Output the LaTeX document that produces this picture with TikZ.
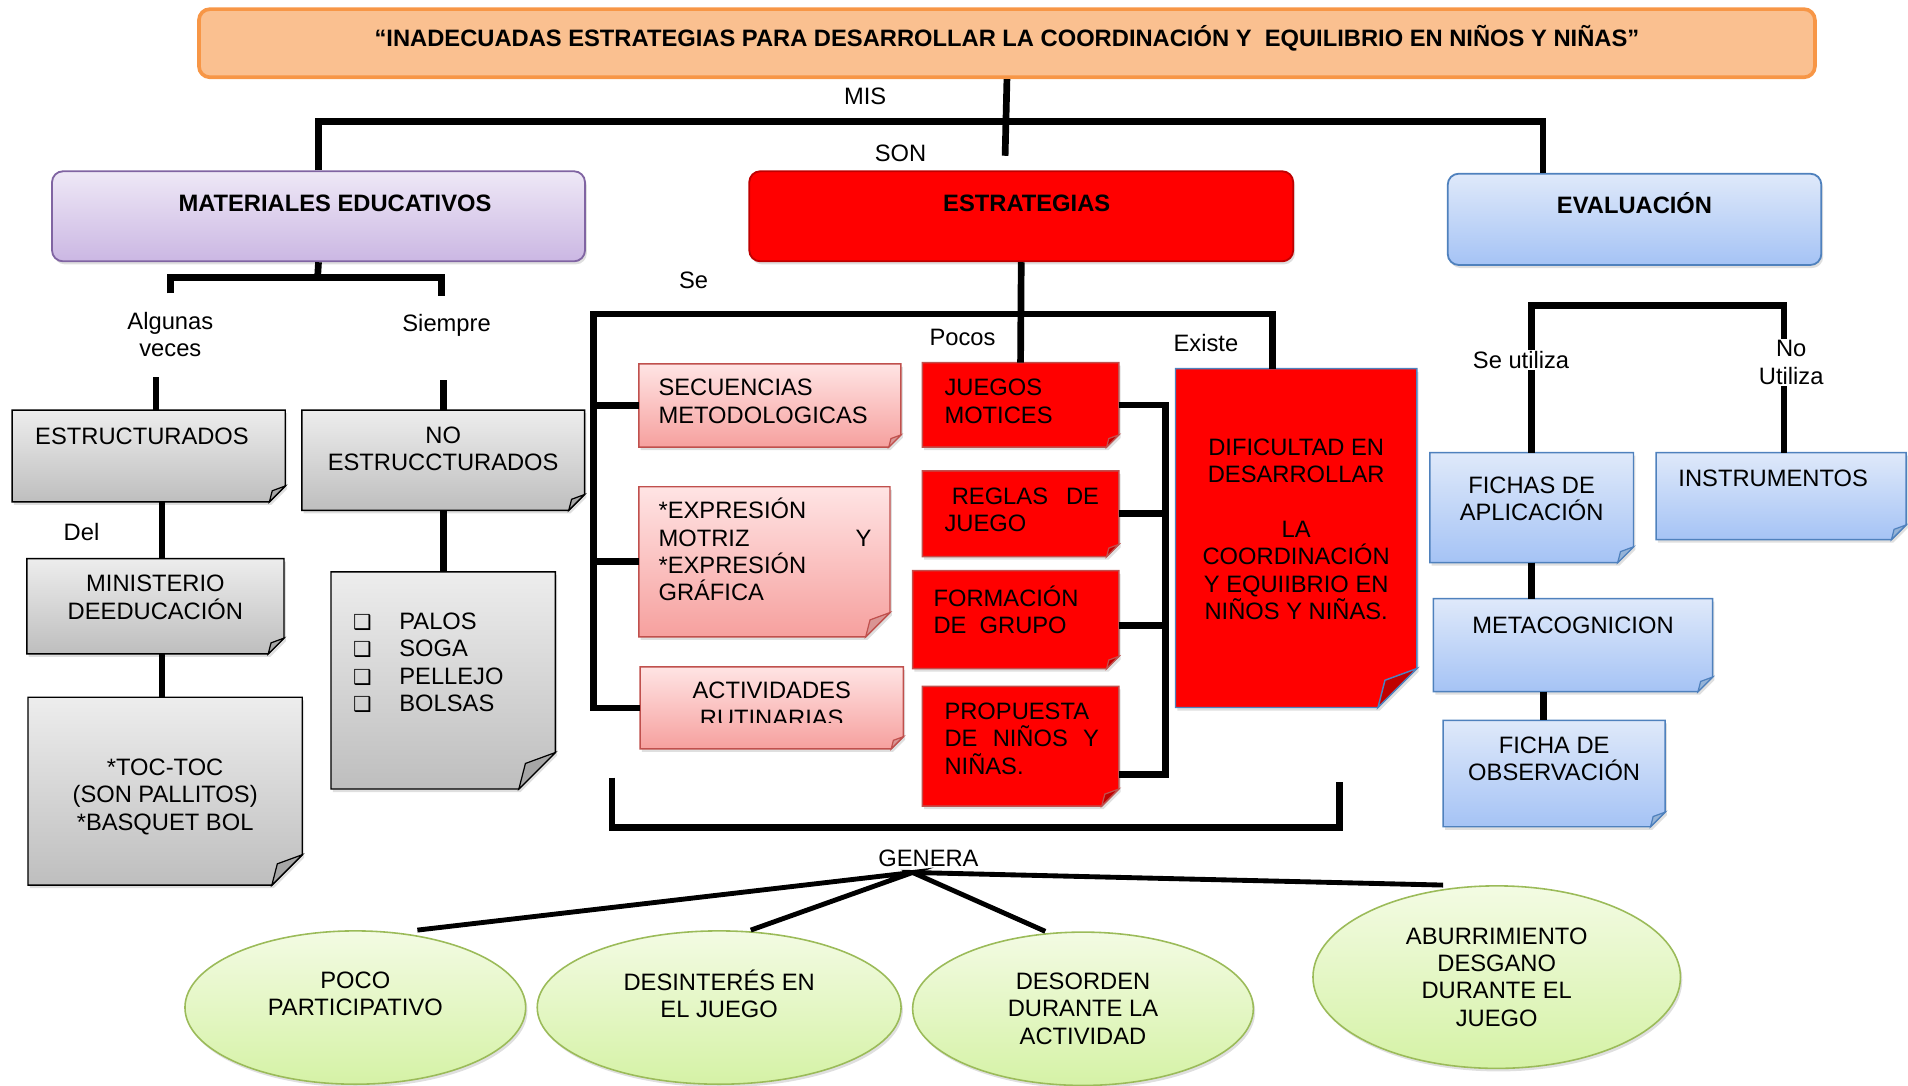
\documentclass[tikz,border=0pt]{standalone}
\usepackage{fontspec}
\setmainfont{Liberation Sans}
\newfontfamily\dingfont{DejaVu Sans}
\usetikzlibrary{shapes.geometric,shadows,backgrounds}

\definecolor{titlefill}{HTML}{FAC090}
\definecolor{titleline}{HTML}{F79646}
\definecolor{lilatop}{HTML}{EEE8F6}
\definecolor{lilabot}{HTML}{CBB7E3}
\definecolor{lilaline}{HTML}{8064A2}
\definecolor{azultop}{HTML}{DFE9FA}
\definecolor{azulbot}{HTML}{A5C3F5}
\definecolor{azulline}{HTML}{4F81BD}
\definecolor{azulflap}{HTML}{95B3D7}
\definecolor{gristop}{HTML}{EDEDED}
\definecolor{grisbot}{HTML}{BEBEBE}
\definecolor{grisflap}{HTML}{A6A6A6}
\definecolor{rosatop}{HTML}{FFE4E4}
\definecolor{rosabot}{HTML}{F6A09E}
\definecolor{rosaline}{HTML}{C0504D}
\definecolor{rosaflap}{HTML}{D99594}
\definecolor{rojo}{HTML}{FF0000}
\definecolor{rojoline}{HTML}{C0504D}
\definecolor{rojoflap}{HTML}{C00000}
\definecolor{verdetop}{HTML}{F3FBE3}
\definecolor{verdebot}{HTML}{D5F2A6}
\definecolor{verdeline}{HTML}{9BBB59}

% text block: width, height, top padding, content
\newcommand\cajatxt[4]{\parbox[t][#2pt][t]{#1pt}{\vspace*{#3pt}\rule{0pt}{18pt}#4}}
\newcommand\bala{\makebox[38pt][l]{\dingfont\fontsize{17}{17}\selectfont ❑}}
% note with folded corner: node, fold, body style, flap style
\newcommand\notebody[4]{%
  \begin{scope}[on background layer]
    \path[#3] (#1.north west) -- (#1.north east) -- ([yshift=#2pt]#1.south east)
      -- ([xshift=-#2pt]#1.south east) -- (#1.south west) -- cycle;
    \path[#4] ([yshift=#2pt]#1.south east) -- ([xshift=-0.82*#2pt,yshift=0.7*#2pt]#1.south east)
      -- ([xshift=-#2pt]#1.south east) -- cycle;
  \end{scope}}

\tikzset{
  conn/.style={line width=5.5pt},
  genera/.style={line width=4pt},
  lbl/.style={inner sep=1pt},
  box/.style={inner sep=0pt, anchor=north west},
  sombra/.style={drop shadow={shadow xshift=1.5pt, shadow yshift=-2.5pt, opacity=0.25}},
  titulo/.style={box, rounded corners=9pt, fill=titlefill, draw=titleline, line width=3pt},
  lila/.style={box, rounded corners=9pt, top color=lilatop, bottom color=lilabot, draw=lilaline, line width=1.5pt, sombra},
  rojobox/.style={box, rounded corners=9pt, fill=rojo, draw=red!75!black, line width=1.5pt, sombra},
  azulbox/.style={box, rounded corners=9pt, top color=azultop, bottom color=azulbot, draw=azulline, line width=1.5pt, sombra},
  nota gris/.style={top color=gristop, bottom color=grisbot, draw=black, line width=1.2pt, sombra},
  gris flap/.style={fill=grisflap, draw=black, line width=1pt},
  nota rosa/.style={top color=rosatop, bottom color=rosabot, draw=rosaline, line width=1.2pt, sombra},
  rosa flap/.style={fill=rosaflap, draw=rosaline, line width=1pt},
  nota roja/.style={fill=rojo, draw=rojoline, line width=1.2pt, sombra},
  roja flap/.style={fill=rojoflap, draw=rojoline, line width=1pt},
  nota dif/.style={fill=rojo, draw=azulline, line width=1.2pt, sombra},
  dif flap/.style={fill=rojoflap, draw=azulline, line width=1.2pt},
  nota azul/.style={top color=azultop, bottom color=azulbot, draw=azulline, line width=1.2pt, sombra},
  azul flap/.style={fill=azulflap, draw=azulline, line width=1pt},
  oval/.style={ellipse, top color=verdetop, bottom color=verdebot, draw=verdeline, line width=1.3pt, align=center, inner sep=0pt, sombra},
}

\begin{document}
\begin{tikzpicture}[x=1pt, y=-1pt, font=\fontsize{19.5}{22.5}\selectfont]
\useasboundingbox (0,0) rectangle (1568,892);

% titulo y ramas
\node[titulo] (title) at (162,6) {\cajatxt{1328}{56}{13}{\centering\bfseries “INADECUADAS ESTRATEGIAS PARA DESARROLLAR LA COORDINACIÓN Y\ \ EQUILIBRIO EN NIÑOS Y NIÑAS”}};
\node[lila] (mat) at (42,140) {\cajatxt{438}{74}{15}{\centering\bfseries\hspace*{27pt}MATERIALES EDUCATIVOS}};
\node[rojobox] (estr) at (615,140) {\cajatxt{447}{74}{15}{\centering\bfseries\hspace*{9pt}ESTRATEGIAS}};
\node[azulbox] (eva) at (1189,142) {\cajatxt{307}{75}{15}{\centering\bfseries EVALUACIÓN}};

% materiales
\node[box] (est) at (10,337) {\cajatxt{224}{75}{10}{\centering ESTRUCTURADOS\hspace*{11pt}}};
\node[box] (min) at (22,459) {\cajatxt{211}{78}{9}{\centering MINISTERIO\\DEEDUCACIÓN}};
\node[box] (toc) at (23,573) {\cajatxt{225}{154}{46}{\centering *TOC-TOC\\(SON PALLITOS)\\{}*BASQUET BOL}};
\node[box] (noest) at (248,337) {\cajatxt{232}{82}{9}{\centering NO\\ESTRUCCTURADOS}};
\node[box] (palos) at (272,470) {\cajatxt{184}{178}{29}{\raggedright\leftskip=18pt \bala PALOS\\\bala SOGA\\\bala PELLEJO\\\bala BOLSAS}};
\notebody{est}{13}{nota gris}{gris flap}
\notebody{min}{13}{nota gris}{gris flap}
\notebody{toc}{25}{nota gris}{gris flap}
\notebody{noest}{13}{nota gris}{gris flap}
\notebody{palos}{30}{nota gris}{gris flap}

% estrategias
\node[box] (sec) at (525,299) {\cajatxt{215}{68}{8}{\raggedright\leftskip=16pt SECUENCIAS\\METODOLOGICAS}};
\node[box] (expr) at (525,400) {\cajatxt{206}{123}{8}{\raggedright\leftskip=16pt\rightskip=15pt plus 1fil\relax *EXPRESIÓN\\MOTRIZ\hfill Y\\{}*EXPRESIÓN\\GRÁFICA}};
\begin{scope}
  \clip (526,548) rectangle (742,594);
  \node[box] (act) at (526,548) {\cajatxt{216}{67}{8}{\centering ACTIVIDADES\\RUTINARIAS}};
\end{scope}
\node[box] (juegos) at (758,298) {\cajatxt{161}{69}{9}{\raggedright\leftskip=18pt JUEGOS\\MOTICES}};
\node[box] (reglas) at (758,387) {\cajatxt{161}{70}{9}{\raggedright\leftskip=18pt\rightskip=16pt plus 1fil\relax\hspace*{6pt}REGLAS\hfill DE\\JUEGO}};
\node[box] (form) at (750,469) {\cajatxt{169}{80}{11}{\raggedright\leftskip=17pt FORMACIÓN\\DE\ \ GRUPO}};
\node[box] (prop) at (758,564) {\cajatxt{161}{98}{9}{\raggedright\leftskip=18pt\rightskip=16pt plus 1fil\relax PROPUESTA\\DE\hfill NIÑOS\hfill Y\\NIÑAS.}};
\node[box] (dif) at (966,303) {\cajatxt{198}{278}{53}{\centering DIFICULTAD EN\\DESARROLLAR\\ \mbox{}\\LA\\COORDINACIÓN\\Y EQUIIBRIO EN\\NIÑOS Y NIÑAS.}};
\notebody{sec}{10}{nota rosa}{rosa flap}
\notebody{expr}{20}{nota rosa}{rosa flap}
\notebody{act}{10}{nota rosa}{rosa flap}
\notebody{juegos}{10}{nota roja}{roja flap}
\notebody{reglas}{10}{nota roja}{roja flap}
\notebody{form}{10}{nota roja}{roja flap}
\notebody{prop}{14}{nota roja}{roja flap}
\notebody{dif}{32}{nota dif}{dif flap}

% evaluacion
\node[box] (fichas) at (1175,372) {\cajatxt{167}{90}{15}{\centering FICHAS DE\\APLICACIÓN}};
\node[box] (inst) at (1361,372) {\cajatxt{205}{71}{10}{\centering INSTRUMENTOS\hspace*{13pt}}};
\node[box] (meta) at (1178,492) {\cajatxt{229}{76}{10}{\centering METACOGNICION}};
\node[box] (obs) at (1186,592) {\cajatxt{182}{87}{9}{\centering FICHA DE\\OBSERVACIÓN}};
\notebody{fichas}{13}{nota azul}{azul flap}
\notebody{inst}{12}{nota azul}{azul flap}
\notebody{meta}{12}{nota azul}{azul flap}
\notebody{obs}{12}{nota azul}{azul flap}

% consecuencias
\node[oval, minimum width=280pt, minimum height=126pt] (poco) at (292,828) {POCO\\PARTICIPATIVO\\\mbox{}};
\node[oval, minimum width=299pt, minimum height=126pt] (desi) at (591,828) {DESINTERÉS EN\\EL JUEGO\\\mbox{}};
\node[oval, minimum width=280pt, minimum height=126pt] (dord) at (890,829) {DESORDEN\\DURANTE LA\\ACTIVIDAD};
\node[oval, minimum width=302pt, minimum height=150pt] (abu) at (1230,803) {ABURRIMIENTO\\DESGANO\\DURANTE EL\\JUEGO};

% conectores
\coordinate (sonEnd) at (826,128);
\coordinate (misR) at (1268,100);
\draw[conn] (title.south) -- (sonEnd);
\draw[conn] (mat.north) |- (misR) -- (misR |- eva.north);

\coordinate (matJ) at (261,228);
\coordinate (algTop) at (140,241);
\coordinate (sieTop) at (363,243);
\draw[conn] (mat.south) -- (matJ);
\draw[conn] (algTop) |- (matJ) -| (sieTop);
\draw[conn] ([xshift=6]est.north) -- ++(0,-27);
\draw[conn] (noest.north) -- ++(0,-25);
\draw[conn] ([xshift=11]est.south) -- ([xshift=5.5]min.north);
\draw[conn] ([xshift=5.5]min.south) -- ([xshift=-2.5]toc.north);
\draw[conn] (noest.south) -- (palos.north);

\coordinate (seJ) at (488,258);
\coordinate (exJ) at (1046,258);
\draw[conn] (estr.south) -- (juegos.north);
\draw[conn] (act.west) -| (seJ) -- (exJ) -- (exJ |- dif.north);
\draw[conn] (sec.west) -- (sec.west -| seJ);
\draw[conn] (expr.west) -- (expr.west -| seJ);

\coordinate (pcR) at (958,331);
\coordinate (propR) at ([yshift=-23pt]prop.east);
\coordinate (formR) at ([yshift=-5pt]form.east);
\draw[conn] (juegos.east) -| (pcR |- propR) -- (propR);
\draw[conn] (reglas.east) -- (reglas.east -| pcR);
\draw[conn] (formR) -- (formR -| pcR);

\coordinate (genL) at (503,639);
\coordinate (genR) at (1101,643);
\coordinate (genB) at (1101,680);
\draw[conn] (genL) |- (genB) -- (genR);

\coordinate (genP) at (750,717);
\draw[genera] ([xshift=51]poco.north) -- (genP) -- ([xshift=26]desi.north);
\draw[genera] ([xshift=-31]dord.north) -- (genP) -- ([xshift=-44]abu.north);

\coordinate (evJ) at (1466,251);
\draw[conn] (fichas.north) |- (evJ) -- (evJ |- inst.north);
\draw[conn] (fichas.south) -- (fichas.south |- meta.north);
\draw[conn] ([xshift=-24.5]meta.south) -- ([xshift=-9]obs.north);

% etiquetas
\node[lbl] (mis) at (711,79) {MIS};
\node[lbl] (son) at (740,126) {SON};
\node[lbl] (se) at (570,230) {Se};
\node[lbl] (pocos) at (791,277) {Pocos};
\node[lbl] (existe) at (991,282) {Existe};
\node[lbl, align=center] (alg) at (140,275) {Algunas\\veces};
\node[lbl] (siempre) at (367,267) {Siempre};
\node[lbl] (del) at (67,437) {Del};
\node[lbl] (gen) at (763,705) {GENERA};
\node[lbl, fill=white] (seut) at (1250,296) {Se utiliza};
\node[lbl, fill=white, align=center] (nout) at (1472,298) {No\\Utiliza};
\end{tikzpicture}
\end{document}
